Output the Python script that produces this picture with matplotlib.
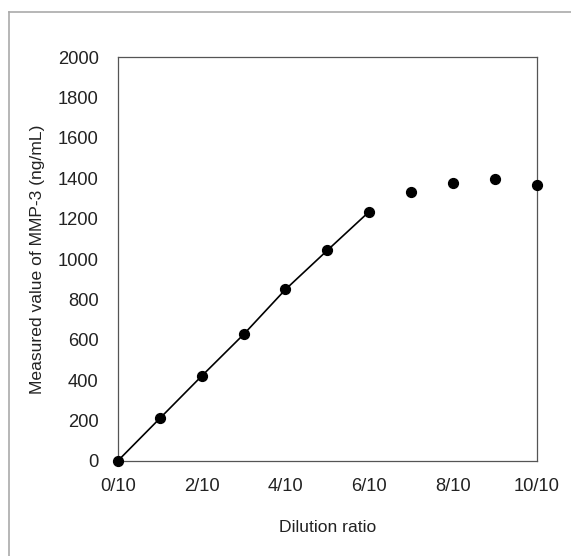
import matplotlib.pyplot as plt
from matplotlib.lines import Line2D

plt.rcParams['font.family'] = ['Liberation Sans', 'DejaVu Sans']

dilution = [0, 1, 2, 3, 4, 5, 6, 7, 8, 9, 10]
measured = [0, 210, 420, 626, 849, 1043, 1235, 1334, 1377, 1398, 1368]
tick_pos = [0, 2, 4, 6, 8, 10]
tick_labels = ['0/10', '2/10', '4/10', '6/10', '8/10', '10/10']
n_linear = 7  # points 0/10 .. 6/10 lie on the fitted line

fig = plt.figure(figsize=(5.71, 5.56), dpi=100)
ax = fig.add_axes([118 / 571, 1 - 460.7 / 556, (536.7 - 118) / 571, (460.7 - 57.3) / 556])

ax.plot(dilution[:n_linear], measured[:n_linear], color='black', lw=1.2, zorder=2)
ax.scatter(dilution, measured, s=50, color='black', zorder=3, clip_on=False)

ax.set_xlim(0, 10)
ax.set_ylim(0, 2000)
ax.set_xticks(tick_pos)
ax.set_xticklabels(tick_labels)
ax.set_yticks(range(0, 2001, 200))
ax.tick_params(length=0, labelsize=13.2, colors='#222222')
ax.tick_params(axis='x', pad=12.5)
ax.tick_params(axis='y', pad=14)
for s in ax.spines.values():
    s.set_color('#555555')
    s.set_linewidth(0.9)

ax.set_xlabel('Dilution ratio', fontsize=12.6, color='#222222', labelpad=18)
ax.set_ylabel('Measured value of MMP-3 (ng/mL)', fontsize=12.6, color='#222222', labelpad=9)

# grey frame around the whole chart
frame_kw = dict(color='#aaaaaa', lw=1.2, transform=fig.transFigure)
fig.add_artist(Line2D([9 / 571, 1.0], [1 - 12 / 556, 1 - 12 / 556], **frame_kw))
fig.add_artist(Line2D([9 / 571, 9 / 571], [0, 1 - 12 / 556], **frame_kw))

fig.savefig('out.png', dpi=100)
